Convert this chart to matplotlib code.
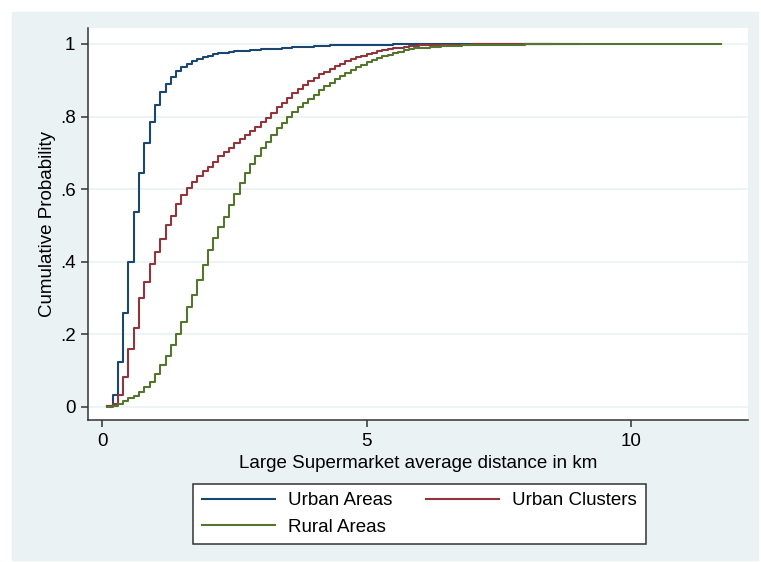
import matplotlib
matplotlib.use("Agg")
import matplotlib.pyplot as plt
from matplotlib.patches import Rectangle

plt.rcParams['font.family'] = ['Liberation Sans', 'DejaVu Sans']

# cumulative distribution (step at each km value)
urban_km = [0.1, 0.2, 0.3, 0.4, 0.5, 0.6, 0.7, 0.8, 0.9, 1.0,
            1.1, 1.2, 1.3, 1.4, 1.5, 1.6, 1.7, 1.8, 1.9, 2.0,
            2.1, 2.2, 2.3, 2.4, 2.5, 2.6, 2.7, 2.8, 2.9, 3.0,
            3.2, 3.4, 3.6, 3.8, 4.0, 4.3, 4.6, 5.0, 5.5, 6.0, 7.0, 8.0, 9.0]
urban_cdf = [0.002, 0.033, 0.125, 0.26, 0.40, 0.538, 0.644, 0.726, 0.785, 0.833,
             0.867, 0.891, 0.910, 0.925, 0.937, 0.946, 0.953, 0.959, 0.964, 0.968,
             0.971, 0.974, 0.976, 0.978, 0.980, 0.981, 0.982, 0.983, 0.984, 0.985,
             0.987, 0.989, 0.991, 0.993, 0.994, 0.996, 0.997, 0.998, 0.999, 0.9995,
             0.9998, 0.9999, 1.0]

cluster_km = [0.1, 0.2, 0.3, 0.4, 0.5, 0.6, 0.7, 0.8, 0.9, 1.0,
              1.1, 1.2, 1.3, 1.4, 1.5, 1.6, 1.7, 1.8, 1.9, 2.0,
              2.1, 2.2, 2.3, 2.4, 2.5, 2.6, 2.7, 2.8, 2.9, 3.0,
              3.1, 3.2, 3.3, 3.4, 3.5, 3.6, 3.7, 3.8, 3.9, 4.0,
              4.1, 4.2, 4.3, 4.4, 4.5, 4.6, 4.7, 4.8, 4.9, 5.0,
              5.1, 5.2, 5.3, 5.4, 5.5, 5.6, 5.7, 5.8, 5.9, 6.0,
              6.2, 6.5, 7.0, 7.5, 8.5]
cluster_cdf = [0.002, 0.008, 0.033, 0.082, 0.160, 0.218, 0.300, 0.345, 0.393, 0.428,
               0.462, 0.500, 0.527, 0.558, 0.584, 0.604, 0.621, 0.636, 0.650, 0.662,
               0.676, 0.690, 0.701, 0.713, 0.726, 0.737, 0.749, 0.760, 0.772, 0.784,
               0.797, 0.811, 0.825, 0.838, 0.851, 0.864, 0.876, 0.887, 0.897, 0.907,
               0.916, 0.924, 0.932, 0.939, 0.946, 0.952, 0.958, 0.963, 0.968, 0.972,
               0.976, 0.980, 0.983, 0.985, 0.988, 0.990, 0.992, 0.994, 0.995, 0.996,
               0.997, 0.998, 0.999, 0.9995, 1.0]

rural_km = [0.1, 0.2, 0.3, 0.4, 0.5, 0.6, 0.7, 0.8, 0.9, 1.0,
            1.1, 1.2, 1.3, 1.4, 1.5, 1.6, 1.7, 1.8, 1.9, 2.0,
            2.1, 2.2, 2.3, 2.4, 2.5, 2.6, 2.7, 2.8, 2.9, 3.0,
            3.1, 3.2, 3.3, 3.4, 3.5, 3.6, 3.7, 3.8, 3.9, 4.0,
            4.1, 4.2, 4.3, 4.4, 4.5, 4.6, 4.7, 4.8, 4.9, 5.0,
            5.1, 5.2, 5.3, 5.4, 5.5, 5.6, 5.7, 5.8, 5.9, 6.0,
            6.2, 6.4, 6.6, 6.8, 7.0, 7.5, 8.0, 9.0, 10.0, 11.7]
rural_cdf = [0.000, 0.003, 0.008, 0.015, 0.024, 0.031, 0.040, 0.056, 0.070, 0.091,
             0.116, 0.140, 0.171, 0.201, 0.235, 0.276, 0.309, 0.350, 0.391, 0.431,
             0.465, 0.497, 0.524, 0.556, 0.587, 0.618, 0.644, 0.669, 0.692, 0.713,
             0.731, 0.749, 0.768, 0.783, 0.800, 0.812, 0.825, 0.837, 0.848, 0.860,
             0.872, 0.883, 0.893, 0.904, 0.913, 0.921, 0.928, 0.936, 0.943, 0.949,
             0.955, 0.960, 0.966, 0.970, 0.975, 0.979, 0.983, 0.985, 0.988, 0.990,
             0.992, 0.994, 0.995, 0.996, 0.997, 0.998, 0.999, 0.9995, 0.9998, 1.0]

y_ticks = [0, 0.2, 0.4, 0.6, 0.8, 1.0]
y_ticklabels = ['0', '.2', '.4', '.6', '.8', '1']
x_ticks = [0, 5, 10]

bg = '#EAF2F3'
fig = plt.figure(figsize=(7.61, 5.62), dpi=100)
# light graph region behind everything
fig.add_artist(Rectangle((12 / 761, 2 / 562), 746 / 761, 548 / 562,
                         transform=fig.transFigure, color=bg, zorder=-10))

ax = fig.add_axes([88 / 761, 1 - 420 / 562, 660 / 761, 392 / 562])
ax.set_facecolor('white')

ax.plot(urban_km, urban_cdf, drawstyle='steps-post', color='#1A476F', lw=1.5, label='Urban Areas')
ax.plot(cluster_km, cluster_cdf, drawstyle='steps-post', color='#90353B', lw=1.5, label='Urban Clusters')
ax.plot(rural_km, rural_cdf, drawstyle='steps-post', color='#55752F', lw=1.5, label='Rural Areas')

ax.set_xlim(-0.265, 12.21)
ax.set_ylim(-0.036, 1.044)
ax.set_yticks(y_ticks)
ax.set_yticklabels(y_ticklabels)
ax.set_xticks(x_ticks)
ax.yaxis.grid(True, color=bg, lw=1.2)
ax.set_axisbelow(True)

for s in ['top', 'right']:
    ax.spines[s].set_visible(False)
for s in ['left', 'bottom']:
    ax.spines[s].set_color('#333333')
    ax.spines[s].set_linewidth(1.1)
ax.tick_params(direction='out', length=5, width=1.1, color='#333333',
               labelsize=13.5, pad=4)

ax.set_ylabel('Cumulative Probability', fontsize=13.5, labelpad=3)
ax.set_xlabel('Large Supermarket average distance in km', fontsize=13.5, labelpad=4)

h, l = ax.get_legend_handles_labels()
order = [0, 2, 1]
leg = fig.legend([h[i] for i in order], [l[i] for i in order], ncol=2,
                 loc='center', bbox_to_anchor=(419.5 / 761, 1 - 514 / 562),
                 fontsize=13.5, frameon=True, fancybox=False, edgecolor='#333333',
                 facecolor='white', framealpha=1,
                 handlelength=3.9, handletextpad=0.7, columnspacing=1.8,
                 labelspacing=0.5, borderpad=0.45)
leg.get_frame().set_linewidth(1.1)

fig.savefig('out.png', dpi=100, facecolor='white')
